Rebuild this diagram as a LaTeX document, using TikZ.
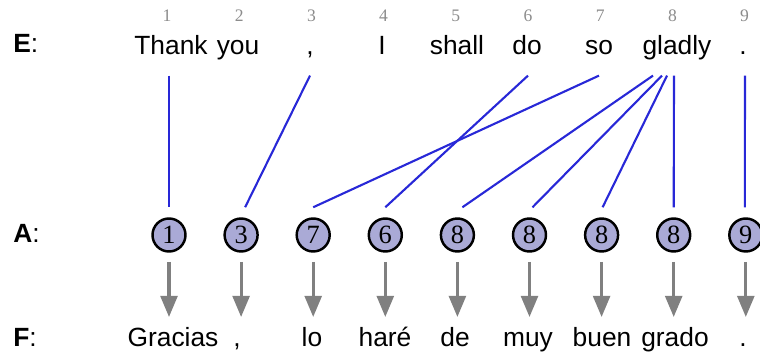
\documentclass[tikz,border=0pt]{standalone}
\usepackage{fontspec}
\setmainfont{Liberation Sans}
\newfontfamily\numfont{Liberation Serif}
\usetikzlibrary{positioning, arrows, calc}

\definecolor{linkblue}{RGB}{40,40,215}
\definecolor{posgray}{RGB}{140,140,140}
\definecolor{arrowgray}{RGB}{128,128,128}
\definecolor{cellfill}{RGB}{170,170,214}

\tikzset{
	word/.style={font=\fontsize{15}{18}\selectfont, text height=11pt, text depth=3pt, inner sep=0pt, anchor=base},
	posnum/.style={font=\numfont\fontsize{10}{12}\selectfont, text=posgray, inner sep=0pt, anchor=base},
	cell/.style={circle, draw, line width=1.4pt, fill=cellfill, minimum size=0.66cm, inner sep=0pt, font=\numfont\fontsize{15}{17}\selectfont},
	link/.style={linkblue, line width=1.2pt},
	pointer/.style={arrowgray, line width=1.8pt, -triangle 45, shorten <=5.2pt, shorten >=6pt}
}

\begin{document}
\begin{tikzpicture}[x=0.02cm, y=-0.02cm]
		\useasboundingbox (0,0) rectangle (760,357);
		
		% row labels
		\node[word, anchor=base west] (lblE) at (13,53) {\textbf{E}:};
		\node[word, anchor=base west] (lblA) at (13,243) {\textbf{A}:};
		\node[word, anchor=base west] (lblF) at (13,347) {\textbf{F}:};
		
		% positions of the English words
		\foreach \i in {1,...,9}
			\node[posnum] (n\i) at ({167+72.2*(\i-1)},22) {\i};
		
		% English sentence
		\node[word] (e1) at (171,55) {Thank};
		\node[word] (e2) at (238,55) {you};
		\node[word] (e3) at (310,55) {,};
		\node[word] (e4) at (382,55) {I};
		\node[word] (e5) at (457,55) {shall};
		\node[word] (e6) at (527,55) {do};
		\node[word] (e7) at (599,55) {so};
		\node[word] (e8) at (677,55) {gladly};
		\node[word] (e9) at (743,55) {.};
		
		% alignment
		\foreach \i/\v in {1/1,2/3,3/7,4/6,5/8,6/8,7/8,8/8,9/9}
			\node[cell] (a\i) at ({169+72.1*(\i-1)},235) {\v};
		
		% French sentence
		\node[word] (f1) at (173,347) {Gracias};
		\node[word] (f2) at (237,347) {,};
		\node[word] (f3) at (312,347) {lo};
		\node[word] (f4) at (385,347) {haré};
		\node[word] (f5) at (455,347) {de};
		\node[word] (f6) at (528,347) {muy};
		\node[word] (f7) at (602,347) {buen};
		\node[word] (f8) at (675,347) {grado};
		\node[word] (f9) at (743,347) {.};
		
		\foreach \e/\dt/\a/\db in {1/-2/1/0, 3/0/2/4, 6/1/4/0, 7/0/3/0, 8/-24/5/5, 8/-15/6/3, 8/-10/7/1, 8/-3/8/0, 9/2/9/-1}
			\draw[link] ($(e\e.south)+(\dt,15)$) -- ($(a\a.north)+(\db,-10)$);
		
		\foreach \i in {1,...,9}
			\draw[pointer] (a\i) -- (a\i |- f\i.north);
\end{tikzpicture}
\end{document}
